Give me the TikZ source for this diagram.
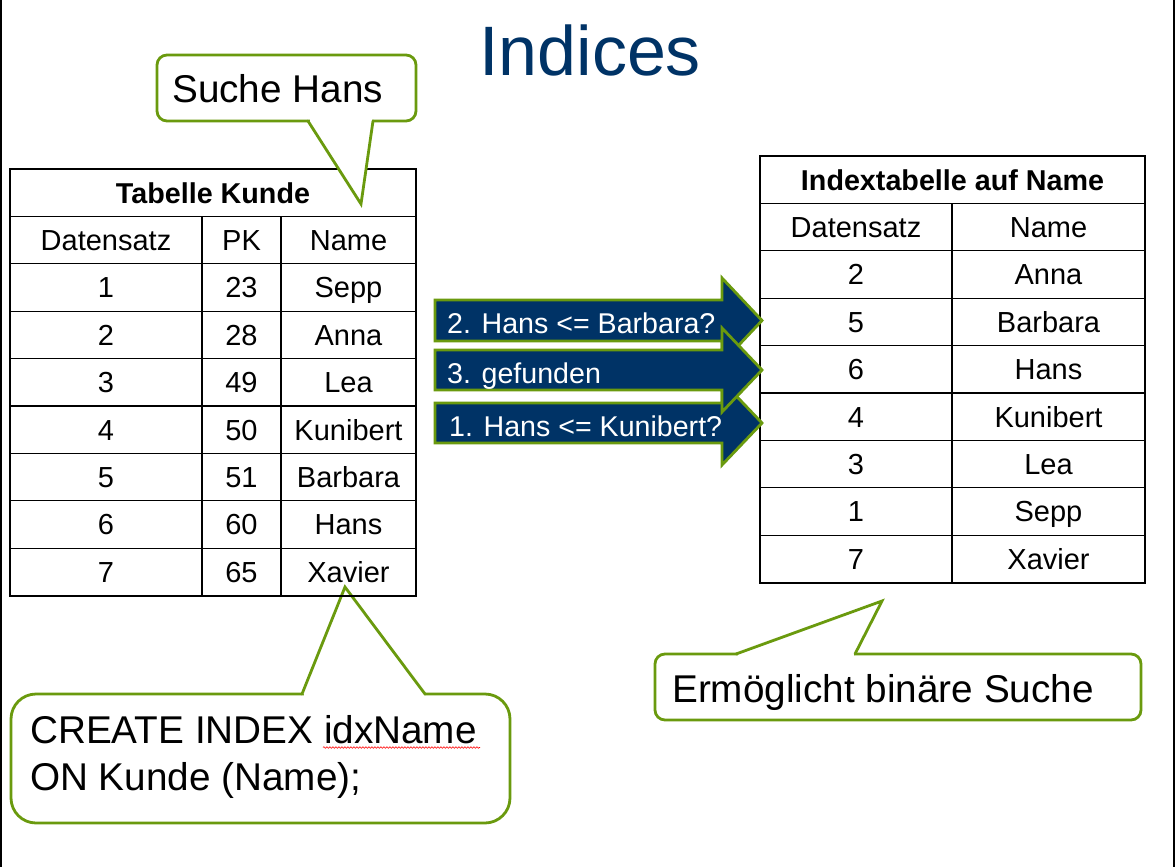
\documentclass[tikz,border=0pt]{standalone}
\usepackage{fontspec}
\setmainfont{Liberation Sans}
\usetikzlibrary{decorations.pathmorphing}
\definecolor{calloutgreen}{RGB}{106,154,14}
\definecolor{navy}{RGB}{0,51,102}
\begin{document}
\begin{tikzpicture}[x=1pt,y=-1pt,
  grid/.style={draw=black,line width=1.1pt},
  cell/.style={anchor=base,inner sep=0pt,font=\fontsize{29}{34}\selectfont},
  headcell/.style={anchor=base,inner sep=0pt,font=\fontsize{28.7}{34}\selectfont\bfseries},
  bubble/.style={draw=calloutgreen,line width=2.8pt,fill=white},
  bubbletip/.style={draw=calloutgreen,line width=2.8pt,line join=miter,line cap=round,fill=white},
  bubbletext/.style={anchor=base west,inner sep=0pt,font=\fontsize{38.7}{47}\selectfont},
  steparrow/.style={fill=navy,draw=calloutgreen,line width=2.8pt,line join=miter},
  arrowtext/.style={anchor=base west,inner sep=0pt,text=white,font=\fontsize{28.6}{34}\selectfont}]

% page, side rules
\useasboundingbox (0,0) rectangle (1175,867);
\fill[white] (0,0) rectangle (1175,867);
\fill[black] (0,0) rectangle (2,867);
\fill[black] (1173,0) rectangle (1175,867);

% title
\node[anchor=base west,inner sep=0pt,text=navy,font=\fontsize{70}{80}\selectfont] (title) at (479,75) {Indices};

% callout: CREATE INDEX (lies behind the table)
\coordinate (createtip) at (345,587);
\draw[bubble,rounded corners=25] (11,694) rectangle (510,823);
\fill[white] (303.5,691) rectangle (423.5,697);
\draw[bubbletip] (302,694) -- (createtip) -- (425,694);
\node[bubbletext] (create1) at (30,743) {CREATE INDEX idxName};
\node[bubbletext] (create2) at (30,790) {ON Kunde (Name);};
\draw[red,line width=0.6pt,decorate,decoration={snake,segment length=3pt,amplitude=0.8pt}]
  (323,747.5) -- (480,747.5);

% table Kunde
\draw[grid] (10,169) rectangle (416,596);
\foreach \k in {1,...,8} \draw[grid] (10,{169+47.4*\k}) -- (416,{169+47.4*\k});
\draw[grid] (202,216.4) -- (202,596);
\draw[grid] (281,216.4) -- (281,596);
\node[headcell] (kunde) at (213,{169+47.4*0.5+10.3}) {Tabelle Kunde};
\node[cell] (kh1) at (106,{169+47.4*1.5+10.4}) {Datensatz};
\node[cell] (kh2) at (241.5,{169+47.4*1.5+10.4}) {PK};
\node[cell] (kh3) at (348.5,{169+47.4*1.5+10.4}) {Name};
\foreach \d/\p/\n [count=\i from 2] in {1/23/Sepp,2/28/Anna,3/49/Lea,4/50/Kunibert,5/51/Barbara,6/60/Hans,7/65/Xavier} {
  \node[cell] (k\i a) at (106,{169+47.4*(\i+0.5)+10.4}) {\d};
  \node[cell] (k\i b) at (241.5,{169+47.4*(\i+0.5)+10.4}) {\p};
  \node[cell] (k\i c) at (348.5,{169+47.4*(\i+0.5)+10.4}) {\n};
}

% index table on Name
\draw[grid] (760,156) rectangle (1145,583);
\foreach \k in {1,...,8} \draw[grid] (760,{156+47.4*\k}) -- (1145,{156+47.4*\k});
\draw[grid] (952,203.4) -- (952,583);
\node[headcell] (index) at (952.5,{156+47.4*0.5+10.3}) {Indextabelle auf Name};
\node[cell] (ih1) at (856,{156+47.4*1.5+10.4}) {Datensatz};
\node[cell] (ih2) at (1048.5,{156+47.4*1.5+10.4}) {Name};
\foreach \d/\n [count=\i from 2] in {2/Anna,5/Barbara,6/Hans,4/Kunibert,3/Lea,1/Sepp,7/Xavier} {
  \node[cell] (i\i a) at (856,{156+47.4*(\i+0.5)+10.4}) {\d};
  \node[cell] (i\i b) at (1048.5,{156+47.4*(\i+0.5)+10.4}) {\n};
}

% search steps as block arrows (step 3 lies on top)
\draw[steparrow] (435,403) -- (722,403) -- (722,381) -- (762,423) -- (722,465) -- (722,443) -- (435,443) -- cycle;
\node[arrowtext] (step1) at (449,436) {1. Hans <= Kunibert?};
\draw[steparrow] (435,300) -- (722,300) -- (722,278) -- (762,320.5) -- (722,363) -- (722,341) -- (435,341) -- cycle;
\node[arrowtext] (step2) at (447,333) {2. Hans <= Barbara?};
\draw[steparrow] (435,350) -- (722,350) -- (722,328) -- (762,370) -- (722,412) -- (722,390) -- (435,390) -- cycle;
\node[arrowtext] (step3) at (447,383) {3. gefunden};

% callout: Suche Hans
\coordinate (suchetip) at (361,204);
\draw[bubble,rounded corners=10] (157,55) rectangle (416,121);
\fill[white] (309.5,118) rectangle (371.5,124);
\draw[bubbletip] (308,121) -- (suchetip) -- (373,121);
\node[bubbletext] (suche) at (172,102) {Suche Hans};

% callout: binary search
\coordinate (binaertip) at (882,601);
\draw[bubble,rounded corners=10] (655,654) rectangle (1141,720);
\fill[white] (737.5,651) rectangle (853.5,657);
\draw[bubbletip] (736,654) -- (binaertip) -- (855,654);
\node[bubbletext] (binaer) at (672,702) {Ermöglicht binäre Suche};
\end{tikzpicture}
\end{document}
